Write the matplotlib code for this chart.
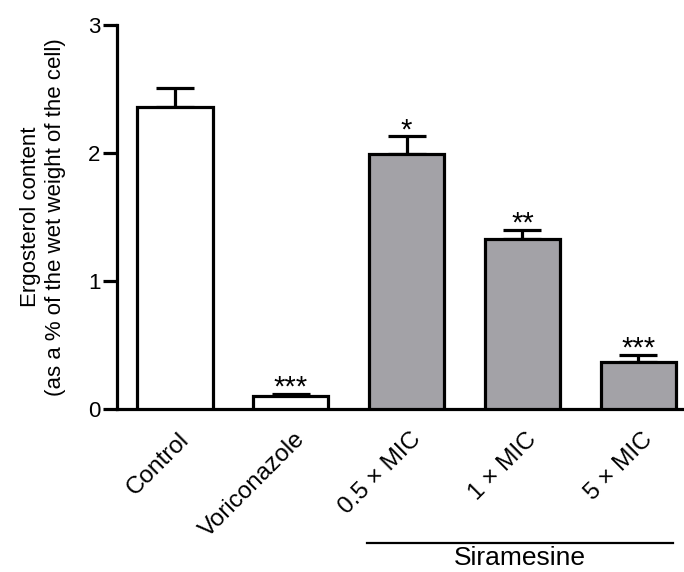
import numpy as np
import matplotlib.pyplot as plt
from matplotlib.transforms import ScaledTranslation

plt.rcParams['font.family'] = ['Liberation Sans', 'DejaVu Sans']

groups = ["Control", "Voriconazole", "0.5 \u00d7 MIC", "1 \u00d7 MIC", "5 \u00d7 MIC"]
ergosterol = [2.36, 0.10, 1.99, 1.33, 0.37]
sem = [0.15, 0.02, 0.14, 0.07, 0.05]
stars = ["", "***", "*", "**", "***"]
fills = ["white", "white", "#a3a2a7", "#a3a2a7", "#a3a2a7"]

fig = plt.figure(figsize=(6.84, 5.72), dpi=100)
ax = fig.add_axes([0.171, 0.285, 0.835, 0.671])

x = np.arange(len(groups))
ax.bar(x, ergosterol, width=0.65, color=fills, edgecolor="black", linewidth=2.3, zorder=3)
ax.errorbar(x, ergosterol, yerr=[np.zeros(len(sem)), sem], fmt="none", ecolor="black",
            elinewidth=2.3, capsize=14, capthick=2.3, zorder=2)

for xi, v, e, s in zip(x, ergosterol, sem, stars):
    if s:
        ax.text(xi, v + e - 0.06, s, ha="center", va="bottom", fontsize=21)

ax.set_xlim(-0.5, 4.43)
ax.set_ylim(0, 3)
ax.set_yticks([0, 1, 2, 3])
ax.tick_params(axis="y", direction="out", length=10, width=2.3, labelsize=16, pad=2)
ax.tick_params(axis="x", length=0, labelsize=17.5, pad=14)
ax.set_xticks(x)
ax.set_xticklabels(groups, rotation=45, ha="right", rotation_mode="anchor")
shift = ScaledTranslation(3 / 100, 0, fig.dpi_scale_trans)
for lbl in ax.get_xticklabels():
    lbl.set_transform(lbl.get_transform() + shift)
for sp in ["top", "right"]:
    ax.spines[sp].set_visible(False)
for sp in ["left", "bottom"]:
    ax.spines[sp].set_linewidth(2.3)

ax.set_ylabel("Ergosterol content\n(as a % of the wet weight of the cell)", fontsize=16,
              labelpad=16, linespacing=1.25)

# Siramesine group bracket
fig.add_artist(plt.Line2D([367 / 684, 673 / 684], [1 - 543 / 572, 1 - 543 / 572],
                          color="black", linewidth=1.6))
fig.text(520 / 684, 1 - 558 / 572, "Siramesine", ha="center", va="center", fontsize=19)

fig.savefig("out.png", dpi=100)
